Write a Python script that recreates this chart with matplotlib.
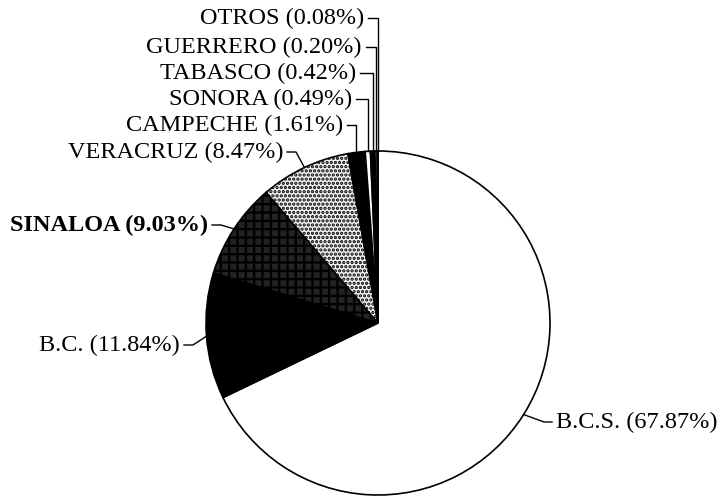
import numpy as np
import matplotlib
matplotlib.use("Agg")
from matplotlib import pyplot as plt

# data
states = ["B.C.S.", "B.C.", "SINALOA", "VERACRUZ", "CAMPECHE", "SONORA", "TABASCO", "GUERRERO", "OTROS"]
shares = [67.87, 11.84, 9.03, 8.47, 1.61, 0.49, 0.42, 0.20, 0.08]
labels = ["B.C.S. (67.87%)", "B.C. (11.84%)", "SINALOA (9.03%)", "VERACRUZ (8.47%)", "CAMPECHE (1.61%)",
          "SONORA (0.49%)", "TABASCO (0.42%)", "GUERRERO (0.20%)", "OTROS (0.08%)"]

# slice looks (scanned b/w print)
faces = ["white", "black", "#222222", "#f2f2f2", "black", "white", "black", "white", "black"]
hatches = [None, None, "++", "....", None, None, None, None, None]

# label anchor in pixels (x of text end, y center), alignment, elbow mode
W, H = 723, 498
CX, CY, R = 378, 323, 172
label_px = [(556, 422), (180, 345), (208, 225), (283, 152), (343, 125),
            (352, 99), (356, 73), (362, 47), (364, 18)]
label_ha = ["left", "right", "right", "right", "right", "right", "right", "right", "right"]
label_bold = [False, False, True, False, False, False, False, False, False]
elbow_vertical = [False, False, False, False, True, True, True, True, True]


def px2d(x, y):
    return (x - CX) / R, (CY - y) / R


plt.rcParams["font.family"] = ["Liberation Serif", "DejaVu Serif"]
plt.rcParams["hatch.color"] = "white"
plt.rcParams["hatch.linewidth"] = 1.6

fig = plt.figure(figsize=(W / 100, H / 100), dpi=100)
ax = fig.add_axes([0, 0, 1, 1])

wedges, _ = ax.pie(shares, startangle=90, counterclock=False, radius=1.0,
                   colors=faces, wedgeprops=dict(edgecolor="black", linewidth=1.2))
for w, h in zip(wedges, hatches):
    if h:
        w.set_hatch(h)

# pie() resets the limits, so set them afterwards
ax.set_xlim(px2d(0, 0)[0], px2d(W, 0)[0])
ax.set_ylim(px2d(0, H)[1], px2d(0, 0)[1])
ax.set_aspect("equal")
ax.axis("off")

for i, w in enumerate(wedges):
    mid = np.deg2rad((w.theta1 + w.theta2) / 2)
    px, py = np.cos(mid), np.sin(mid)
    tx, ty = px2d(*label_px[i])
    gap = 4 / R
    if label_ha[i] == "left":
        ex = tx - gap
        elbow = (ex - 8 / R, ty)
        ax.text(tx, ty, labels[i], ha="left", va="center", fontsize=17.5)
    else:
        ex = tx + gap
        ax.text(tx, ty, labels[i], ha="right", va="center", fontsize=17.5,
                fontweight="bold" if label_bold[i] else "normal")
        if elbow_vertical[i]:
            elbow = (px, ty)
        else:
            elbow = (ex + 9 / R, ty)
    ax.plot([ex, elbow[0], px], [ty, elbow[1], py], color="black", lw=1.0)

fig.savefig("out.png", dpi=100, facecolor="white")
